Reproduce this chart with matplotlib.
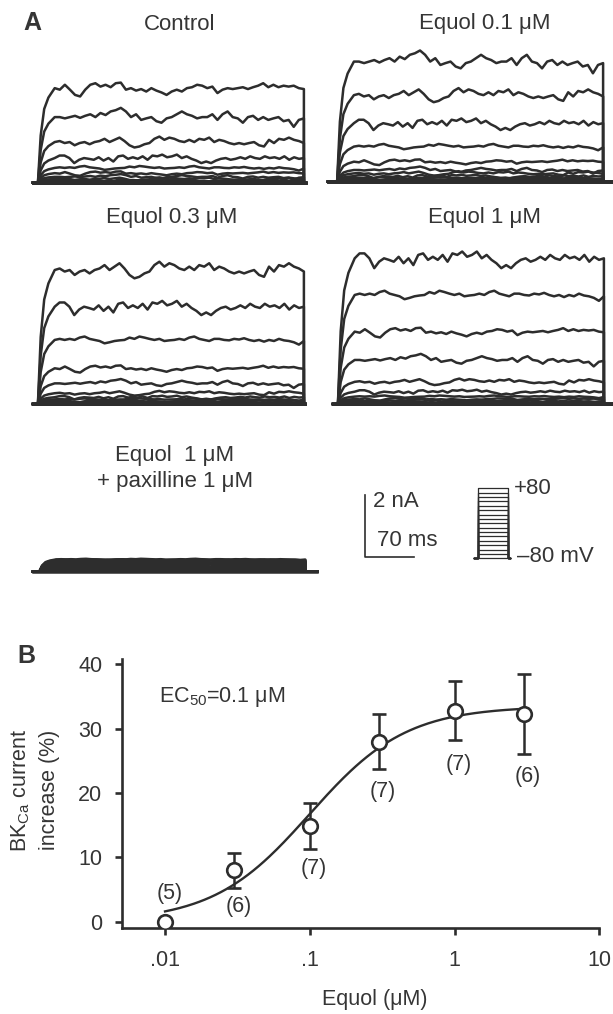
import numpy as np
import matplotlib.pyplot as plt
from matplotlib.ticker import NullLocator

plt.rcParams['font.family'] = ['Liberation Sans', 'DejaVu Sans']
plt.rcParams['mathtext.fontset'] = 'custom'
plt.rcParams['mathtext.rm'] = 'Liberation Sans'
plt.rcParams['mathtext.it'] = 'Liberation Sans:italic'

INK = '#2d2d2d'
TXT = '#353535'

# ---------------- panel A data ----------------
# steady-state current of each sweep (nA), +80 mV sweep first, -80 mV last
ctrl_levels = [3.07, 2.13, 1.32, 0.80, 0.48, 0.31, 0.19, 0.12, 0.08, 0.05, 0.03, 0.02, 0.01, 0.0, 0.0, 0.0, 0.0]
eq01_levels = [3.90, 2.81, 1.90, 1.14, 0.65, 0.38, 0.27, 0.18, 0.12, 0.08, 0.05, 0.03, 0.02, 0.01, 0.0, 0.0, 0.0]
eq03_levels = [4.35, 3.16, 2.08, 1.16, 0.67, 0.35, 0.22, 0.15, 0.10, 0.06, 0.04, 0.02, 0.01, 0.0, 0.0, 0.0, 0.0]
eq1_levels = [4.73, 3.54, 2.35, 1.43, 0.72, 0.40, 0.24, 0.16, 0.10, 0.06, 0.04, 0.02, 0.01, 0.0, 0.0, 0.0, 0.0]
pax_levels = [0.40, 0.38, 0.36, 0.34, 0.32, 0.30, 0.27, 0.24, 0.21, 0.18, 0.15, 0.12, 0.09, 0.06, 0.04, 0.02, 0.0]

wig_ctrl = [0.00, -0.05, 0.11, -0.05, -0.22, -0.27, -0.05, 0.11, 0.16, 0.05, 0.11, 0.03, 0.16, 0.18, -0.05,
            0.00, -0.08, -0.03, -0.11, 0.00, -0.08, -0.14, -0.22, -0.11, -0.05, -0.11, 0.00, 0.03, 0.11, 0.08,
            0.00, 0.05, -0.16, -0.05, 0.00, -0.03, 0.00, 0.03, -0.03, 0.03, 0.08, 0.16, 0.03, 0.11, 0.03,
            0.08, 0.05, 0.08, 0.00, -0.03]
wig_eq01 = [-0.11, 0.00, -0.05, 0.00, 0.05, -0.03, 0.05, 0.11, 0.00, 0.16, 0.08, 0.22, 0.27, 0.36, 0.22,
            0.00, 0.11, -0.11, -0.05, 0.00, -0.16, -0.22, -0.05, 0.00, 0.11, 0.22, 0.11, 0.05, -0.05, 0.00,
            0.00, 0.11, -0.11, 0.11, 0.22, 0.00, -0.05, -0.22, 0.00, 0.05, -0.11, 0.00, -0.11, -0.05, 0.00,
            -0.16, -0.11, -0.38, -0.11, -0.05]
wig_eq03 = [0.11, 0.05, -0.05, 0.00, -0.16, -0.05, 0.00, -0.11, 0.00, 0.05, 0.16, 0.00, 0.11, 0.22, 0.05,
            -0.16, -0.27, -0.22, -0.11, -0.05, 0.16, 0.27, 0.11, 0.22, 0.16, 0.05, 0.00, 0.11, 0.00, 0.16,
            0.11, 0.22, 0.00, 0.11, 0.05, -0.05, -0.11, -0.05, -0.11, -0.05, 0.00, -0.16, -0.22, 0.11, -0.05,
            0.16, 0.11, 0.22, 0.11, 0.05, -0.05]
wig_eq1 = [-0.05, 0.16, 0.16, 0.00, -0.32, -0.11, 0.00, -0.05, -0.11, 0.05, -0.16, 0.00, -0.22, 0.11, 0.16,
           -0.05, 0.05, -0.05, 0.11, -0.11, 0.16, 0.11, 0.22, 0.05, 0.11, 0.22, 0.00, 0.11, -0.05, -0.16,
           -0.32, -0.22, -0.32, -0.16, -0.05, 0.00, -0.11, -0.05, 0.05, -0.05, 0.11, 0.00, -0.05, 0.11, 0.00,
           0.05, -0.05, 0.11, -0.11, 0.05, -0.05, 0.00]
wig_ctrl2 = [0.00, 0.05, 0.00, 0.05, 0.00, 0.11, 0.16, 0.05, 0.00, -0.05, -0.16, -0.11, -0.05, -0.02, 0.00,
             0.11, 0.05, 0.16, 0.11, 0.05, 0.00, 0.05, -0.05, -0.02, 0.00, 0.05, 0.00, 0.11, 0.16, 0.05,
             0.00, -0.05, 0.05, 0.05, 0.00, -0.02, 0.05, 0.02, 0.08, 0.00, -0.05, 0.00, -0.08, 0.00, -0.05,
             0.05, -0.02, -0.05, -0.11, -0.22, -0.05]
wiggles = [wig_ctrl, wig_eq01, wig_eq03, wig_eq1, wig_ctrl2]

# activation time course after the step onset (ms, fraction of plateau)
rise_ms = [0, 4, 9, 15, 24]
rise_frac = [0.0, 0.5, 0.78, 0.9, 1.0]
STEP_MS = 380

# voltage protocol (mV)
hold_mv = -80
step_mv = [-80, -70, -60, -50, -40, -30, -20, -10, 0, 10, 20, 30, 40, 50, 60, 70, 80]

# ---------------- panel B data ----------------
conc = [0.01, 0.03, 0.1, 0.3, 1, 3]
resp = [0.0, 8.0, 14.9, 28.0, 32.8, 32.3]
sem = [0.0, 2.75, 3.6, 4.3, 4.6, 6.2]
n_cells = [5, 6, 7, 7, 7, 6]
n_label_y = [4.4, 2.3, 8.3, 20.3, 24.4, 22.6]
ec50, n_hill, e_max = 0.1, 1.3, 33.5

# ---------------- figure ----------------
W, H = 613, 1014
fig = plt.figure(figsize=(W / 100, H / 100), dpi=100)
PX_MS = 0.7     # px per ms
PX_NA = 30.8    # px per nA


def px_axes(x0, x1, y0, y1):
    ax = fig.add_axes([x0 / W, 1 - y1 / H, (x1 - x0) / W, (y1 - y0) / H])
    return ax


def px_text(x, y, s, **kw):
    kw.setdefault('color', TXT)
    kw.setdefault('fontsize', 16)
    kw.setdefault('ha', 'center')
    kw.setdefault('va', 'center')
    fig.text(x / W, 1 - y / H, s, **kw)


def trace_axes(x0, base, total_ms):
    ax = px_axes(x0, x0 + total_ms * PX_MS, base - 5.5 * PX_NA, base + 0.5 * PX_NA)
    ax.set_xlim(0, total_ms)
    ax.set_ylim(-0.5, 5.5)
    ax.axis('off')
    return ax


def draw_sweeps(ax, levels, pre, post, first, gain=1.0):
    t_on, t_off = pre, pre + STEP_MS
    top = levels[0]
    for j, lev in enumerate(levels):
        w = np.array(wiggles[(first + j) % len(wiggles)])
        s = gain * np.sqrt(lev / top)
        tw = np.linspace(t_on + rise_ms[-1], t_off, len(w))
        t = np.concatenate([[0, t_on], t_on + np.array(rise_ms[1:]), tw[1:], [t_off, t_off + post]])
        y = np.concatenate([[0, 0], lev * np.array(rise_frac[1:]), lev + s * w[1:], [0, 0]])
        ax.plot(t, y, color=INK, lw=1.8, solid_joinstyle='round', clip_on=False)


# layout: (levels, x start px, baseline px, pre ms, post ms, wiggle index, gain)
panels = [
    (ctrl_levels, 33, 182.7, 7, 3, 0, 1.0),
    (eq01_levels, 328, 181.7, 13, 14, 1, 1.0),
    (eq03_levels, 33, 404, 7, 2, 2, 1.0),
    (eq1_levels, 333, 404, 7, 12, 3, 1.0),
    (pax_levels, 33, 571.7, 9, 17, 4, 0.12),
]
for levels, x0, base, pre, post, wi, gain in panels:
    ax = trace_axes(x0, base, pre + STEP_MS + post)
    draw_sweeps(ax, levels, pre, post, wi, gain)

px_text(32.5, 23.5, 'A', fontsize=18, fontweight='bold')
px_text(180, 25, 'Control')
px_text(485, 23, 'Equol 0.1 \u03bcM')
px_text(172, 218, 'Equol 0.3 \u03bcM')
px_text(485, 218, 'Equol 1 \u03bcM')
px_text(175, 455, 'Equol  1 \u03bcM')
px_text(175, 482, '+ paxilline 1 \u03bcM')

# scale bar: 2 nA, 70 ms
sb = trace_axes(365.4, 556.7, 80)
sb.plot([0, 0, 70], [2, 0, 0], color=INK, lw=1.2, clip_on=False)
px_text(373, 501.7, '2 nA', ha='left')
px_text(377, 540, '70 ms', ha='left')

# voltage protocol
pr_pre, pr_pulse, pr_post = 5, 43, 4
pr = px_axes(474, 474 + (pr_pre + pr_pulse + pr_post) * PX_MS, 558.3 - 170 * 0.4375, 558.3 + 10 * 0.4375)
pr.set_xlim(0, pr_pre + pr_pulse + pr_post)
pr.set_ylim(-90, 90)
pr.axis('off')
for v in step_mv:
    pr.plot([0, pr_pre, pr_pre, pr_pre + pr_pulse, pr_pre + pr_pulse, pr_pre + pr_pulse + pr_post],
            [hold_mv, hold_mv, v, v, hold_mv, hold_mv], color=INK, lw=0.9, clip_on=False)
px_text(514, 488.3, '+80', ha='left')
px_text(517, 556.7, '\u201380 mV', ha='left')

# ---------------- panel B ----------------
axb = px_axes(121.7, 599.3, 659.3, 928.3)
xc = np.logspace(np.log10(conc[0]), np.log10(conc[-1]), 200)
axb.plot(xc, e_max / (1 + (ec50 / xc) ** n_hill), color=INK, lw=1.7, zorder=2)
axb.errorbar(conc, resp, yerr=sem, fmt='o', ms=10.5, mfc='white', mec=INK, mew=1.9,
             ecolor=INK, elinewidth=1.8, capsize=5, capthick=1.8, zorder=3)
for x, y, n in zip(conc, n_label_y, n_cells):
    axb.annotate(f'({n})', (x, y), xytext=(3, 0), textcoords='offset points',
                 ha='center', va='center', fontsize=15.5, color=TXT)
axb.text(0.0091, 34.9, 'EC$_{50}$=0.1 \u03bcM', ha='left', va='center', fontsize=15.5, color=TXT)

axb.set_xscale('log')
axb.set_xlim(0.00502, 10)
axb.set_ylim(-1.03, 40.8)
axb.set_xticks([0.01, 0.1, 1, 10])
axb.set_xticklabels(['.01', '.1', '1', '10'])
axb.xaxis.set_minor_locator(NullLocator())
axb.set_yticks([0, 10, 20, 30, 40])
for side in ('top', 'right'):
    axb.spines[side].set_visible(False)
for side in ('left', 'bottom'):
    axb.spines[side].set_linewidth(1.9)
    axb.spines[side].set_color(INK)
axb.tick_params(axis='both', direction='out', length=5, width=1.9, color=INK,
                labelsize=15.5, labelcolor=TXT)
axb.tick_params(axis='y', pad=9)
axb.tick_params(axis='x', pad=10.5)

px_text(26, 656, 'B', fontsize=18, fontweight='bold')
px_text(35, 790, 'BK$_{\\rm Ca}$ current\nincrease (%)', rotation=90, fontsize=15.5,
        linespacing=1.45, multialignment='center')
px_text(375, 1000, 'Equol (\u03bcM)', fontsize=15.5)

fig.savefig('out.png', dpi=100)
